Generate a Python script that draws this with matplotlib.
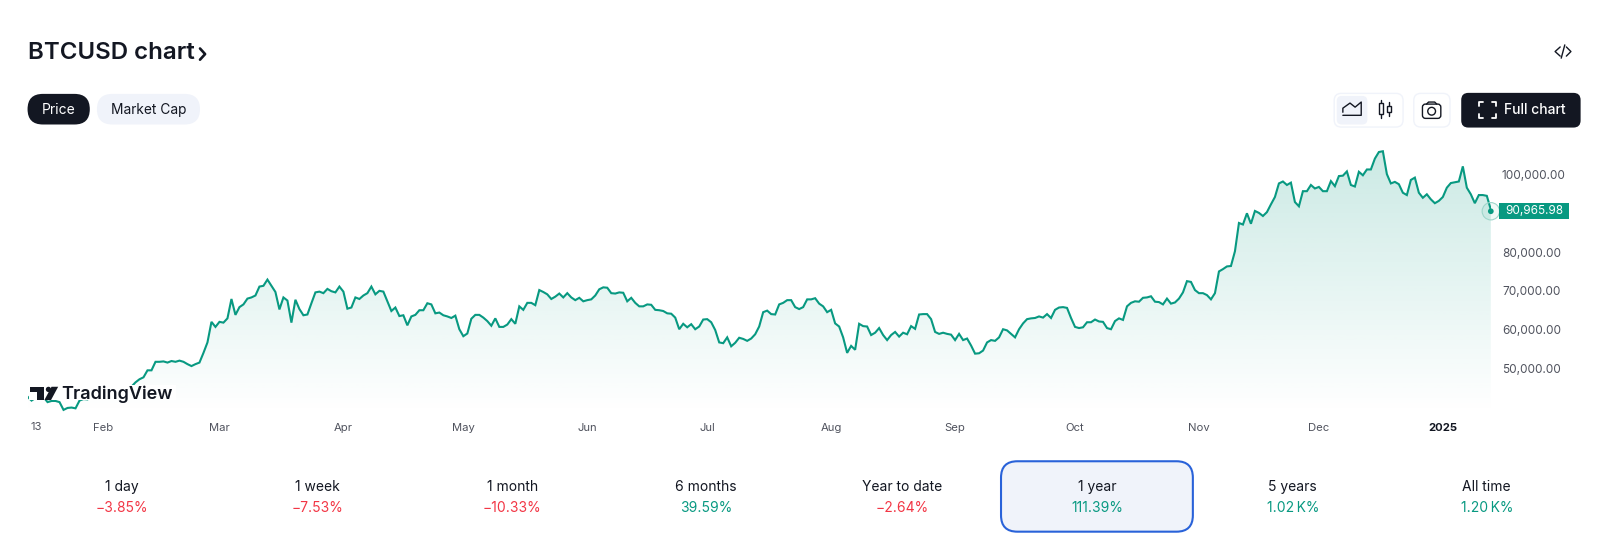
import matplotlib
matplotlib.use("Agg")
import matplotlib.pyplot as plt
import matplotlib.dates as mdates
import numpy as np
import pandas as pd
from matplotlib.patches import FancyBboxPatch, Rectangle, Circle, Polygon
from matplotlib.ticker import FuncFormatter

plt.rcParams["font.family"] = ["Inter", "DejaVu Sans"]

# daily close in thousands of USD, 13 Jan 2024 to 13 Jan 2025
price_k = [
    42.7, 41.7, 42.4, 43.0, 42.6, 41.3, 41.6, 41.6, 41.3, 39.3, 39.8, 39.9, 39.7, 41.7, 42.1, 42.0,
    43.3, 42.9, 42.6, 43.1, 43.2, 43.0, 42.6, 42.7, 43.1, 44.3, 45.3, 46.4, 47.2, 47.7, 49.5, 49.5,
    51.7, 51.7, 51.8, 51.5, 51.9, 51.7, 52.0, 51.7, 51.1, 50.6, 51.1, 51.5, 54.0, 56.7, 62.0, 60.7,
    62.0, 61.8, 62.9, 67.9, 63.8, 65.8, 66.5, 68.0, 68.3, 68.8, 71.1, 71.3, 72.9, 71.3, 69.7, 65.2,
    68.3, 67.5, 61.8, 67.7, 65.3, 63.7, 63.9, 66.8, 69.6, 69.8, 69.4, 70.5, 69.9, 69.6, 71.1, 69.8,
    65.4, 65.7, 68.3, 67.9, 68.8, 69.4, 71.1, 69.1, 70.0, 69.8, 67.3, 64.8, 65.7, 63.5, 63.7, 61.1,
    63.4, 63.8, 65.0, 65.0, 66.8, 66.5, 64.2, 64.4, 63.7, 63.4, 63.0, 63.6, 60.1, 58.3, 59.0, 62.8,
    63.8, 63.8, 63.1, 62.2, 61.0, 62.9, 60.7, 60.7, 61.3, 62.7, 61.5, 66.0, 65.1, 66.9, 66.9, 66.3,
    70.2, 69.7, 69.1, 67.9, 68.5, 69.3, 68.3, 69.4, 68.3, 67.6, 68.2, 67.3, 67.6, 67.8, 68.8, 70.4,
    70.9, 70.8, 69.4, 69.3, 69.6, 69.5, 67.3, 68.2, 66.9, 66.0, 66.0, 66.5, 66.4, 65.1, 65.0, 64.8,
    64.2, 64.1, 63.1, 60.1, 61.5, 60.6, 61.4, 60.1, 60.8, 62.6, 62.7, 61.9, 59.9, 56.7, 56.5, 58.0,
    55.7, 56.6, 57.9, 57.6, 57.1, 57.7, 58.8, 60.8, 64.5, 64.9, 64.0, 63.9, 66.5, 66.9, 67.6, 67.6,
    65.8, 65.3, 65.8, 67.8, 67.8, 68.1, 66.7, 66.0, 64.5, 65.1, 61.6, 60.8, 58.0, 54.0, 55.8, 54.8,
    61.5, 60.9, 60.8, 58.6, 59.2, 60.4, 58.6, 57.3, 58.6, 59.4, 58.2, 59.2, 58.8, 60.9, 60.2, 63.9,
    64.0, 64.0, 62.7, 59.4, 58.9, 59.2, 58.9, 58.7, 57.3, 58.9, 57.3, 57.7, 55.9, 53.8, 53.9, 54.6,
    56.7, 57.3, 57.1, 58.0, 60.1, 59.8, 58.9, 58.0, 60.1, 61.6, 62.7, 62.9, 63.0, 63.4, 63.1, 64.0,
    63.0, 65.1, 65.7, 65.8, 65.6, 63.0, 60.7, 60.4, 60.6, 61.9, 61.9, 62.6, 62.1, 62.0, 60.4, 60.1,
    62.2, 62.9, 62.5, 66.0, 66.9, 67.3, 67.2, 68.2, 68.3, 68.6, 67.2, 67.1, 66.5, 68.0, 66.7, 67.0, 68.0,
    69.6, 72.5, 72.3, 70.2, 69.4, 69.4, 68.9, 67.8, 69.4, 75.0, 75.6, 76.3, 76.4, 80.2, 87.5,
    87.1, 90.0, 87.3, 90.6, 90.1, 89.3, 90.3, 92.3, 94.2, 97.7, 98.2, 97.3, 97.9, 92.9, 91.8, 95.7,
    95.7, 97.3, 96.4, 96.8, 95.7, 95.7, 98.3, 97.0, 99.6, 99.7, 100.8, 97.3, 96.9, 100.7, 99.8, 101.3,
    101.3, 104.1, 105.8, 106.0, 100.1, 97.7, 98.1, 97.5, 95.3, 94.7, 98.6, 99.2, 95.3, 94.0, 94.9, 93.6,
    92.6, 93.2, 94.2, 96.6, 97.8, 98.0, 98.2, 102.1, 96.6, 94.9, 92.6, 94.7, 94.7, 94.5, 90.96598,
]
start_date = "2024-01-13"

y_ticks_k = [50, 60, 70, 80, 100]
month_ticks = ["2024-02-01", "2024-03-01", "2024-04-01", "2024-05-01", "2024-06-01", "2024-07-01",
               "2024-08-01", "2024-09-01", "2024-10-01", "2024-11-01", "2024-12-01", "2025-01-01"]
month_labels = ["Feb", "Mar", "Apr", "May", "Jun", "Jul", "Aug", "Sep", "Oct", "Nov", "Dec", "2025"]

periods = ["1 day", "1 week", "1 month", "6 months", "Year to date", "1 year", "5 years", "All time"]
changes = ["\u22123.85%", "\u22127.53%", "\u221210.33%", "39.59%", "\u22122.64%", "111.39%", "1.02\u2009K%", "1.20\u2009K%"]
period_x = [119, 311, 502, 692, 884, 1075, 1267, 1457]

GREEN = "#089981"
RED = "#f23645"
DARK = "#131722"
PALE = "#f0f3fa"

# layout units: the figure is 1600x548 but positions below are on a 1568x537 grid
W, H = 1568, 537
fig = plt.figure(figsize=(16, 5.48), dpi=100, facecolor="white")

# chart axes, rect on that grid: x 27..1461, y 140..405
ax = fig.add_axes([27 / W, 1 - 405 / H, 1434 / W, 265 / H])
dates = pd.date_range(start_date, periods=len(price_k), freq="D")
xs = mdates.date2num(dates)
ys = np.array(price_k)
ymin, ymax = 38.42, 108.16

ax.plot(xs, ys, color=GREEN, lw=1.5, solid_joinstyle="miter", zorder=3)
poly = ax.fill_between(xs, ys, ymin, color="none")
grad = np.zeros((256, 2, 4))
grad[..., :3] = matplotlib.colors.to_rgb(GREEN)
grad[..., 3] = np.linspace(0.21, 0, 256)[:, None]
im = ax.imshow(grad, extent=[xs[0], xs[-1], ymin, 105.5], origin="upper", aspect="auto", zorder=1)
im.set_clip_path(poly.get_paths()[0], transform=ax.transData)

ax.set_xlim(xs[0], xs[-1])
ax.set_ylim(ymin, ymax)
for s in ax.spines.values():
    s.set_visible(False)
ax.patch.set_alpha(0)
ax.yaxis.tick_right()
ax.set_yticks(y_ticks_k)
ax.yaxis.set_major_formatter(FuncFormatter(lambda v, p: f"{v * 1000:,.2f}"))
ax.set_xticks(mdates.date2num(pd.to_datetime(month_ticks)))
ax.set_xticklabels(month_labels)
ax.tick_params(axis="y", length=0, pad=8, labelsize=8.5, labelcolor="#50535e")
ax.tick_params(axis="x", length=0, pad=7.0, labelsize=8.1, labelcolor="#50535e")
ax.get_xticklabels()[-1].set_fontweight("bold")
ax.get_xticklabels()[-1].set_color(DARK)

# everything else is drawn on the layout grid
ui = fig.add_axes([0, 0, 1, 1], zorder=5)
ui.set_xlim(0, W)
ui.set_ylim(H, 0)
ui.axis("off")


def box(x0, y0, x1, y1, r, fc, ec="none", lw=0, z=2):
    p = FancyBboxPatch((x0 + r, y0 + r), x1 - x0 - 2 * r, y1 - y0 - 2 * r,
                       boxstyle=f"round,pad={r},rounding_size={r}", fc=fc, ec=ec, lw=lw, zorder=z)
    ui.add_patch(p)


def stroke(px, py, color=DARK, lw=1.0):
    ui.plot(px, py, color=color, lw=lw, solid_capstyle="round", solid_joinstyle="round", zorder=4)


ui.text(35, 418, "13", ha="center", va="center", fontsize=8.1, color="#50535e")

# title and chevron
ui.text(27, 52, "BTCUSD chart", fontsize=17.3, fontweight="semibold", color=DARK, va="center")
stroke([196, 201, 196], [47.5, 53, 58.5], lw=1.9)
# embed icon
stroke([1529, 1524, 1529], [46, 50.5, 55])
stroke([1533.5, 1530, ], [44, 57])
stroke([1535, 1539.5, 1535], [46, 50.5, 55])

# price / market cap pills
box(27, 92, 88, 122, 15, DARK)
ui.text(57.5, 107.5, "Price", fontsize=10.0, color="white", ha="center", va="center", zorder=5)
box(95, 92, 196, 122, 15, PALE)
ui.text(145.5, 107.5, "Market Cap", fontsize=9.9, color=DARK, ha="center", va="center", zorder=5)

# chart type buttons
box(1307.5, 91.5, 1375, 124.5, 7, "white", ec=PALE, lw=1)
box(1310, 94, 1340, 122, 5, PALE, z=3)
stroke([1316, 1316, 1323, 1328, 1334, 1334, 1316], [110, 106, 101, 105, 100, 113, 113], lw=1)
stroke([1353, 1353], [98, 116], lw=1)
ui.add_patch(Rectangle((1351, 101), 4, 11, fc="white", ec=DARK, lw=1, zorder=4))
stroke([1361, 1361], [100, 114], lw=1)
ui.add_patch(Rectangle((1359.2, 104), 3.6, 6, fc="white", ec=DARK, lw=1, zorder=4))
box(1385.5, 91.5, 1421, 124.5, 7, "white", ec=PALE, lw=1)
box(1394, 102, 1412, 116, 3, "white", ec=DARK, lw=1, z=3)
stroke([1398, 1400, 1406, 1408], [102, 100, 100, 102], lw=1)
ui.add_patch(Circle((1403, 109), 3.8, fc="white", ec=DARK, lw=1, zorder=4))

# full chart button
box(1432, 91, 1549, 125, 7, DARK)
for cx, sx, cy, sy in [(1449, 1, 100, 1), (1466, -1, 100, 1), (1449, 1, 116, -1), (1466, -1, 116, -1)]:
    stroke([cx, cx, cx + 4 * sx], [cy + 4 * sy, cy, cy], color="white", lw=1.3)
ui.text(1504, 107.5, "Full chart", fontsize=10.0, fontweight="medium", color="white", ha="center", va="center", zorder=5)

# last price marker
ui.add_patch(Circle((1461, 207), 8.5, fc=GREEN, alpha=0.06, ec="none", zorder=3))
ui.add_patch(Circle((1461, 207), 8.5, fc="none", ec="#9fd6cb", lw=0.8, zorder=3))
ui.add_patch(Circle((1461, 207), 2.8, fc=GREEN, ec="none", zorder=4))
ui.add_patch(Rectangle((1469, 199), 68.5, 16, fc=GREEN, ec="none", zorder=4))
ui.text(1503.5, 207, f"{price_k[-1] * 1000:,.2f}", fontsize=8.5, color="white", ha="center", va="center", zorder=5)

# tradingview logo, with its white backing over the line
ui.add_patch(Rectangle((28, 377), 144, 15, fc="white", ec="none", zorder=2))
ui.add_patch(Polygon([(29, 379), (43, 379), (43, 392), (36, 392), (36, 384.5), (29, 384.5)], fc=DARK, ec="none", zorder=3))
ui.add_patch(Circle((47.5, 381.6), 2.6, fc=DARK, ec="none", zorder=3))
ui.add_patch(Polygon([(50.5, 379), (57, 379), (50, 392), (43.5, 392)], fc=DARK, ec="none", zorder=3))
ui.text(60.5, 386, "TradingView", fontsize=13.0, fontweight="semibold", color=DARK, va="center", zorder=5)

# period table
box(981, 452, 1169, 521, 16, PALE, ec="#2962d9", lw=1.5)
for px, label, change in zip(period_x, periods, changes):
    ui.text(px, 477.5, label, fontsize=10.0, color=DARK, ha="center", va="center", zorder=5)
    color = RED if change.startswith("\u2212") else GREEN
    ui.text(px, 498, change, fontsize=10.0, color=color, ha="center", va="center", zorder=5,
            family=["Inter", "DejaVu Sans"])

fig.savefig("out.png", dpi=100)
